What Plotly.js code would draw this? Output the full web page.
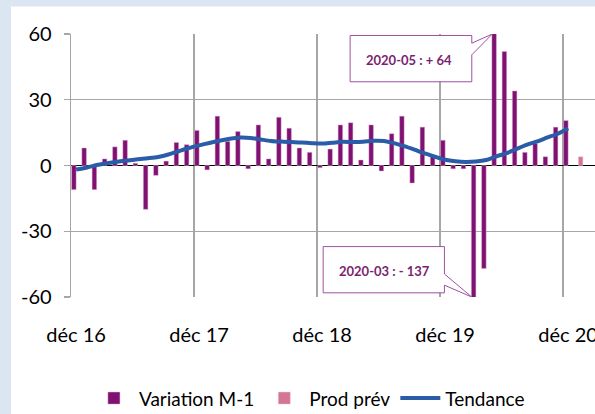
<!DOCTYPE html>
<html>
<head>
<meta charset="utf-8">
<script src="https://cdn.plot.ly/plotly-3.0.1.min.js"></script>
<style>html,body{margin:0;padding:0;background:#fff;}#chart{width:595px;height:414px;}</style>
</head>
<body>
<div id="chart"></div>
<script>
const months = ['2016-12',
 '2017-01','2017-02','2017-03','2017-04','2017-05','2017-06','2017-07','2017-08','2017-09','2017-10','2017-11','2017-12',
 '2018-01','2018-02','2018-03','2018-04','2018-05','2018-06','2018-07','2018-08','2018-09','2018-10','2018-11','2018-12',
 '2019-01','2019-02','2019-03','2019-04','2019-05','2019-06','2019-07','2019-08','2019-09','2019-10','2019-11','2019-12',
 '2020-01','2020-02','2020-03','2020-04','2020-05','2020-06','2020-07','2020-08','2020-09','2020-10','2020-11','2020-12',
 '2021-01'];
const variation = [-11, 8, -11, 3, 8.5, 11.5, 1, -20, -4.5, 2, 10.5, 9.5, 16,
 -2, 22.5, 11, 15.5, -1.5, 18.5, 3, 22, 17, 8, 6, -1,
 7.5, 18.5, 19.5, 2.5, 18.5, -2.5, 14.5, 22.5, -8, 17.5, 4.5, 11.5,
 -1.5, -1.5, -137, -47, 64, 52, 34, 6, 10, 4, 17.5, 20.5,
 null];
const prodPrev = [null,null,null,null,null,null,null,null,null,null,null,null,null,
 null,null,null,null,null,null,null,null,null,null,null,null,
 null,null,null,null,null,null,null,null,null,null,null,null,
 null,null,null,null,null,null,null,null,null,null,null,null,
 4];
const trend = [-1.8, -1.0, 0.2, 1.0, 1.7, 2.3, 2.8, 3.3, 3.9, 5.0, 6.5, 8.0, 9.2,
 10.3, 11.3, 12.2, 12.8, 12.6, 11.9, 11.2, 10.9, 10.7, 10.5, 10.2, 10.0,
 10.4, 10.8, 10.7, 10.8, 11.3, 11.2, 10.2, 8.8, 7.2, 5.5, 4.0, 2.6,
 1.9, 1.6, 1.8, 2.5, 4.2, 5.6, 7.6, 9.5, 11.0, 12.8, 14.5, 17.0];
const tickMonths = ['2016-12','2017-12','2018-12','2019-12','2020-12'];
const tickLabels = ['déc 16','déc 17','déc 18','déc 19','déc 20'];
const yTicks = [-60, -30, 0, 30, 60];
const callouts = [
  {month: '2020-05', text: '2020-05 : + 64'},
  {month: '2020-03', text: '2020-03 : - 137'}
];

const idx = months.map((m, i) => i);
const FONT = 'Lato, "Open Sans", sans-serif';
const PURPLE = '#7e1171';
const GRID = '#a6a6a6';

const traces = [
  {type: 'bar', name: 'Variation M-1', x: idx, y: variation,
   marker: {color: PURPLE, line: {color: 'rgba(225,170,215,0.9)', width: 0.5}}},
  {type: 'bar', name: 'Prod prév', x: idx, y: prodPrev,
   marker: {color: '#d47597', line: {color: 'rgba(240,200,215,0.9)', width: 0.5}}},
  {type: 'scatter', mode: 'lines', name: 'Tendance', x: idx.slice(0, trend.length), y: trend,
   line: {color: '#2a5ca8', width: 4, shape: 'spline', smoothing: 0.8}}
];

const i05 = months.indexOf(callouts[0].month);
const i03 = months.indexOf(callouts[1].month);

const layout = {
  width: 595, height: 414,
  margin: {l: 71, r: 0, t: 34, b: 117, autoexpand: false},
  paper_bgcolor: '#ffffff', plot_bgcolor: '#ffffff',
  font: {family: FONT, size: 20, color: '#000'},
  barmode: 'group', bargap: 0.12, bargroupgap: 0,
  showlegend: true,
  legend: {orientation: 'h', x: 0.455, xanchor: 'center', y: -0.385, yanchor: 'middle',
           font: {family: FONT, size: 19, color: '#000'}, traceorder: 'normal', itemwidth: 40},
  xaxis: {
    range: [-0.5, 50.62], showgrid: false, zeroline: false, showline: false, automargin: false,
    tickmode: 'array', tickvals: tickMonths.map(m => months.indexOf(m)), ticktext: tickLabels,
    ticks: '', ticklabelstandoff: 24, ticklabeloverflow: 'allow',
    minor: {tick0: -0.5, dtick: 12, showgrid: true, gridcolor: GRID, gridwidth: 1.3, ticks: ''}
  },
  yaxis: {
    range: [-60, 60], tickvals: yTicks, ticktext: yTicks.map(String), automargin: false,
    showgrid: true, gridcolor: GRID, gridwidth: 1.3,
    zeroline: true, zerolinecolor: '#000', zerolinewidth: 1.5,
    showline: true, linecolor: GRID, linewidth: 1.3,
    ticks: 'outside', ticklen: 6, tickcolor: GRID, tickwidth: 1.3, ticklabelstandoff: 8
  },
  shapes: [
    {type: 'rect', xref: 'paper', yref: 'paper', layer: 'below',
     x0: -0.2, x1: -0.1145, y0: -0.5, y1: 1.2, fillcolor: '#dce6f2', line: {width: 0}},
    {type: 'rect', xref: 'paper', yref: 'paper', layer: 'below',
     x0: -0.2, x1: 1.05, y0: 1.105, y1: 1.2, fillcolor: '#dce6f2', line: {width: 0}},
    {type: 'path', xref: 'x', yref: 'y', layer: 'above', fillcolor: '#ffffff',
     line: {color: '#a050a0', width: 1},
     path: 'M26.73,59.3 L38.6,59.3 L38.6,55.8 L' + (i05 - 0.4) + ',60 L38.6,50.5 L38.6,38.2 L26.73,38.2 Z'},
    {type: 'path', xref: 'x', yref: 'y', layer: 'above', fillcolor: '#ffffff',
     line: {color: '#a050a0', width: 1},
     path: 'M24.1,-37.0 L35.93,-37.0 L35.93,-49.5 L' + (i03 - 0.4) + ',-60 L35.93,-54.6 L35.93,-58.1 L24.1,-58.1 Z'}
  ],
  annotations: [
    {xref: 'x', yref: 'y', x: 32.5, y: 48.3, text: '<b>' + callouts[0].text + '</b>', showarrow: false,
     font: {family: FONT, size: 13, color: '#7b1f6f'}},
    {xref: 'x', yref: 'y', x: 30.1, y: -48, text: '<b>' + callouts[1].text + '</b>', showarrow: false,
     font: {family: FONT, size: 13, color: '#7b1f6f'}}
  ]
};

Plotly.newPlot('chart', traces, layout, {displayModeBar: false, staticPlot: true});
</script>
</body>
</html>
